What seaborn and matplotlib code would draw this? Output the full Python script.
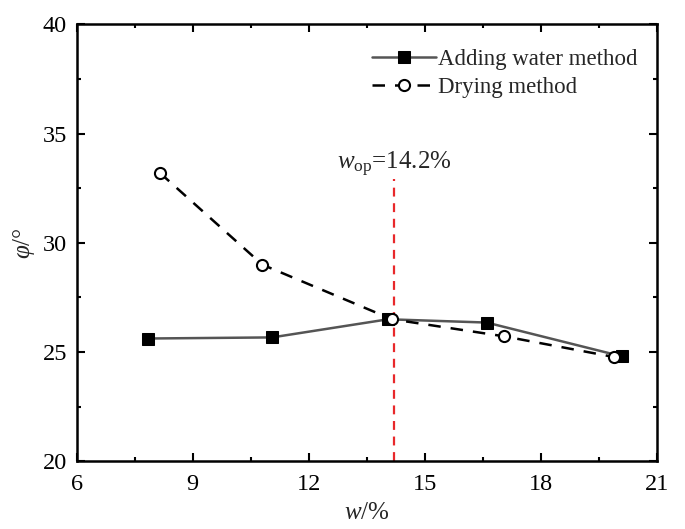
import matplotlib
matplotlib.use("Agg")
import matplotlib.pyplot as plt
import seaborn as sns
import pandas as pd
from matplotlib.ticker import MultipleLocator

sns.set_theme(style="ticks")
plt.rcParams['font.family'] = ['Liberation Serif', 'DejaVu Serif']
plt.rcParams['mathtext.fontset'] = 'custom'
plt.rcParams['mathtext.rm'] = 'Liberation Serif'
plt.rcParams['mathtext.it'] = 'Liberation Serif:italic'

# Data
water_w = [7.85, 11.05, 14.05, 16.6, 20.1]
water_phi = [25.62, 25.67, 26.5, 26.35, 24.8]
dry_w = [8.15, 10.8, 14.15, 17.05, 19.9]
dry_phi = [33.2, 29.0, 26.5, 25.72, 24.77]
w_op = 14.2
labels = ["Adding water method", "Drying method"]

fig = plt.figure(figsize=(6.85, 5.29), dpi=100)
ax = fig.add_axes([0.112, 0.128, 0.847, 0.826])

sns.lineplot(x=water_w, y=water_phi, ax=ax, color="#555555", linewidth=1.8,
             marker="s", markersize=8.5, markerfacecolor="black", markeredgecolor="black",
             label=labels[0])
sns.lineplot(x=dry_w, y=dry_phi, ax=ax, color="black", linewidth=1.8,
             linestyle=(0, (5, 4)), marker="o", markersize=8, markerfacecolor="white",
             markeredgecolor="black", markeredgewidth=1.5, label=labels[1])

ax.plot([w_op, w_op], [20, 32.9], color="#e8282b", linestyle=(0, (4, 3)), linewidth=1.6, zorder=1)
ax.text(w_op, 33.35, r"$w_{\mathrm{op}}$=14.2%", ha="center", va="baseline", fontsize=18)

ax.set_xlim(6, 21)
ax.set_ylim(20, 40)
ax.xaxis.set_major_locator(MultipleLocator(3))
ax.xaxis.set_minor_locator(MultipleLocator(1.5))
ax.yaxis.set_major_locator(MultipleLocator(5))
ax.yaxis.set_minor_locator(MultipleLocator(2.5))
ax.tick_params(which="both", direction="in", top=True, right=True, width=1.5, colors="black")
ax.tick_params(which="major", length=6, labelsize=17.5)
ax.tick_params(axis="x", which="major", pad=9)
ax.tick_params(axis="y", which="major", pad=7)
ax.tick_params(which="minor", length=3)
for s in ax.spines.values():
    s.set_linewidth(1.8)
    s.set_color("black")

ax.set_xlabel(r"$w$/%", fontsize=18, labelpad=5)
ax.set_ylabel(r"$\varphi$/°", fontsize=18, labelpad=4)

leg = ax.legend(loc="upper right", bbox_to_anchor=(0.995, 0.98), frameon=False,
                fontsize=16.5, handlelength=2.8, handletextpad=0.1, borderaxespad=0.3,
                labelspacing=0.3)

fig.savefig("out.png", dpi=100)
